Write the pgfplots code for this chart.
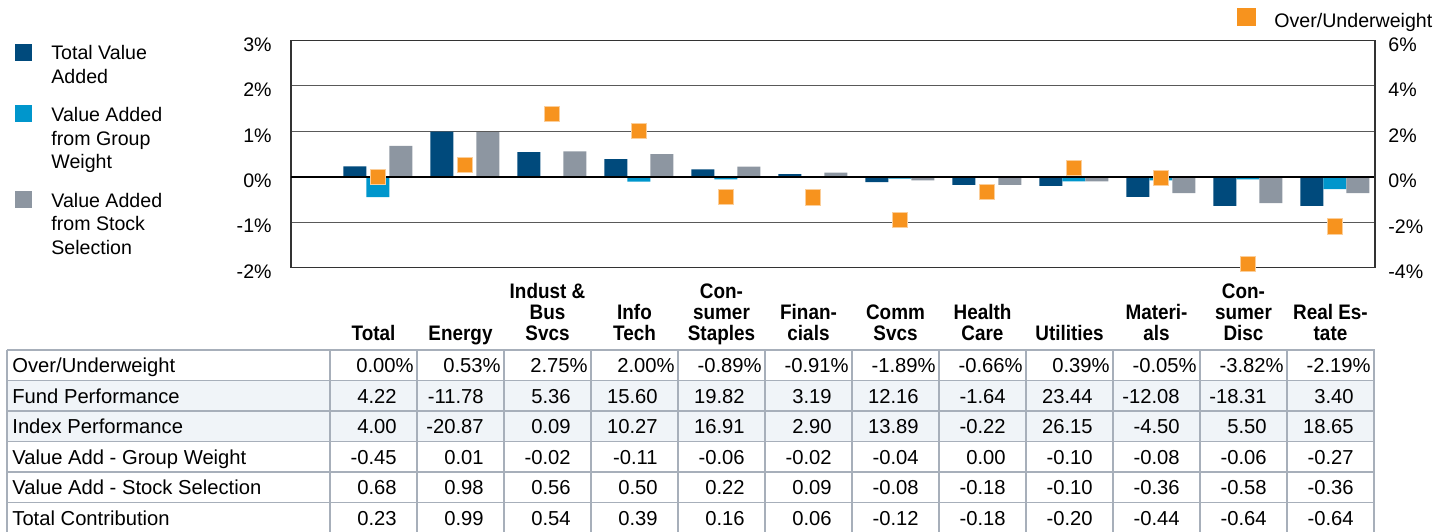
\documentclass[border=0pt]{standalone}
\usepackage{pgfplots}
\usepackage{pgfplotstable}
\pgfplotsset{compat=1.18}
\usepackage{fontspec}
\setmainfont{Liberation Sans}
\newfontfamily\hdr[FakeStretch=0.9]{Liberation Sans Bold}
\definecolor{navy}{HTML}{004A7C}
\definecolor{lblue}{HTML}{0096CC}
\definecolor{sgrey}{HTML}{8D96A1}
\definecolor{orng}{HTML}{F7931E}
\definecolor{tline}{HTML}{A7AFBA}
\definecolor{tfill}{HTML}{F0F4F8}

\pgfplotstableread{
x tot grp stk ow
0 0.23 -0.45 0.68 0.00
1 0.99 0.01 0.98 0.53
2 0.54 -0.02 0.56 2.75
3 0.39 -0.11 0.50 2.00
4 0.16 -0.06 0.22 -0.89
5 0.06 -0.02 0.09 -0.91
6 -0.12 -0.04 -0.08 -1.89
7 -0.18 0.00 -0.18 -0.66
8 -0.20 -0.10 -0.10 0.39
9 -0.44 -0.08 -0.36 -0.05
10 -0.64 -0.06 -0.58 -3.82
11 -0.64 -0.27 -0.36 -2.19
}\datatable

\begin{document}
\begin{tikzpicture}
\begin{axis}[
  at={(0,0)}, anchor=south west,
  scale only axis, width=542pt, height=113.7pt,
  xmin=-1.0, xmax=11.46, ymin=-2, ymax=3,
  xtick=\empty,
  ytick={-2,-1,0,1,2,3},
  yticklabels={-2\%,-1\%,0\%,1\%,2\%,3\%},
  ytick pos=left,
  major tick length=0pt,
  ymajorgrids,
  grid style={black!65, line width=0.7pt},
  axis line style={black!80, line width=0.75pt},
  yticklabel style={font=\fontsize{9.8}{10}\selectfont, inner sep=0pt, xshift=-9.5pt, yshift=-2pt},
  ybar=0pt, bar width=11.5pt,
]
\addplot[fill=navy, draw=none] table[x=x,y=tot]{\datatable};
\addplot[fill=lblue, draw=none] table[x=x,y=grp]{\datatable};
\addplot[fill=sgrey, draw=none] table[x=x,y=stk]{\datatable};
\draw[black, line width=1.1pt] (axis cs:-1.0,0) -- (axis cs:11.46,0);
\end{axis}
\begin{axis}[
  at={(0,0)}, anchor=south west,
  scale only axis, width=542pt, height=113.7pt,
  xmin=-1.0, xmax=11.46, ymin=-4, ymax=6,
  axis x line=none, axis y line*=right,
  ytick={-4,-2,0,2,4,6},
  yticklabels={-4\%,-2\%,0\%,2\%,4\%,6\%},
  major tick length=0pt,
  axis line style={black!80, line width=0.75pt},
  yticklabel style={font=\fontsize{9.8}{10}\selectfont, inner sep=0pt, xshift=6.5pt, yshift=-2pt},
]
\addplot[only marks, mark=square*, mark size=3.8pt,
  mark options={fill=orng, draw=orng!45, line width=0.5pt}]
  table[x=x,y=ow]{\datatable};
\end{axis}

\begin{scope}[x=0.5pt,y=-0.5pt,shift={(-145.5pt,133.85pt)},
  every node/.style={font=\fontsize{9.8}{11.8}\selectfont, inner sep=0pt}]
% left legend
\fill[navy] (15,44) rectangle (32,61);
\node[anchor=base west] at (51,59) {Total Value};
\node[anchor=base west] at (51,83) {Added};
\fill[lblue] (15,105) rectangle (32,122);
\node[anchor=base west] at (51,121) {Value Added};
\node[anchor=base west] at (51,145) {from Group};
\node[anchor=base west] at (51,168) {Weight};
\fill[sgrey] (15,191) rectangle (32,208);
\node[anchor=base west] at (51,207) {Value Added};
\node[anchor=base west] at (51,230) {from Stock};
\node[anchor=base west] at (51,254) {Selection};
% right legend
\fill[orng] (1237,8) rectangle (1256,26);
\node[anchor=base west] at (1274,27) {Over/Underweight};

% headers
\foreach \c/\a/\b/\d in {1/{}/{}/Total, 2/{}/{}/Energy, 3/{Indust \&}/Bus/Svcs,
  4/{}/Info/Tech, 5/Con-/sumer/Staples, 6/{}/Finan-/cials, 7/{}/Comm/Svcs,
  8/{}/Health/Care, 9/{}/{}/Utilities, 10/{}/Materi-/als, 11/Con-/sumer/Disc,
  12/{}/{Real Es-}/tate}{
  \node[anchor=base, font=\hdr\fontsize{10.5}{10.5}\selectfont] at ({286.5+87*\c},298) {\a};
  \node[anchor=base, font=\hdr\fontsize{10.5}{10.5}\selectfont] at ({286.5+87*\c},319) {\b};
  \node[anchor=base, font=\hdr\fontsize{10.5}{10.5}\selectfont] at ({286.5+87*\c},340) {\d};
}

% table
\begin{scope}[every node/.style={font=\fontsize{10.1}{12}\selectfont, inner sep=0pt}]
\fill[tfill] (7,380.5) rectangle (1375,441.5);
\foreach \y in {350,380.5,411,441.5,472,502.5,533}
  \draw[tline, line width=0.75pt] (7,\y) -- (1375,\y);
\draw[tline, line width=0.75pt] (7,350) -- (7,540);
\foreach \k in {0,...,12}
  \draw[tline, line width=0.75pt] ({330+87*\k},350) -- ({330+87*\k},540);

\node[anchor=base west] at (12,372.5) {Over/Underweight};
\node[anchor=base west] at (12,403) {Fund Performance};
\node[anchor=base west] at (12,433.5) {Index Performance};
\node[anchor=base west] at (12,464) {Value Add - Group Weight};
\node[anchor=base west] at (12,494.5) {Value Add - Stock Selection};
\node[anchor=base west] at (12,525) {Total Contribution};

\foreach \v [count=\c] in {0.00\%,0.53\%,2.75\%,2.00\%,-0.89\%,-0.91\%,-1.89\%,-0.66\%,0.39\%,-0.05\%,-3.82\%,-2.19\%}
  \node[anchor=base east] at ({330+87*\c-3},372.5) {\v};
\foreach \v [count=\c] in {4.22,-11.78,5.36,15.60,19.82,3.19,12.16,-1.64,23.44,-12.08,-18.31,3.40}
  \node[anchor=base east] at ({330+87*\c-20},403) {\v};
\foreach \v [count=\c] in {4.00,-20.87,0.09,10.27,16.91,2.90,13.89,-0.22,26.15,-4.50,5.50,18.65}
  \node[anchor=base east] at ({330+87*\c-20},433.5) {\v};
\foreach \v [count=\c] in {-0.45,0.01,-0.02,-0.11,-0.06,-0.02,-0.04,0.00,-0.10,-0.08,-0.06,-0.27}
  \node[anchor=base east] at ({330+87*\c-20},464) {\v};
\foreach \v [count=\c] in {0.68,0.98,0.56,0.50,0.22,0.09,-0.08,-0.18,-0.10,-0.36,-0.58,-0.36}
  \node[anchor=base east] at ({330+87*\c-20},494.5) {\v};
\foreach \v [count=\c] in {0.23,0.99,0.54,0.39,0.16,0.06,-0.12,-0.18,-0.20,-0.44,-0.64,-0.64}
  \node[anchor=base east] at ({330+87*\c-20},525) {\v};
\end{scope}

\pgfresetboundingbox
\path[use as bounding box] (0,0) rectangle (1453,531);
\end{scope}
\end{tikzpicture}
\end{document}
